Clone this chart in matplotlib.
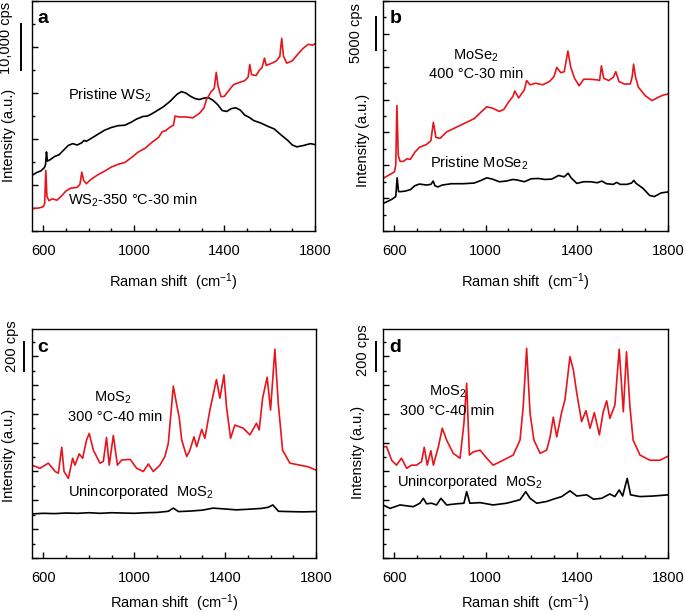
import matplotlib
matplotlib.use("Agg")
import matplotlib.pyplot as plt
import matplotlib.transforms as mtransforms
from matplotlib.ticker import MultipleLocator, FixedLocator, NullFormatter

plt.rcParams["font.family"] = ["Liberation Sans", "DejaVu Sans"]
plt.rcParams["font.size"] = 10.5
plt.rcParams["mathtext.fontset"] = "custom"
plt.rcParams["mathtext.rm"] = "Liberation Sans"
plt.rcParams["mathtext.it"] = "Liberation Sans:italic"
plt.rcParams["mathtext.bf"] = "Liberation Sans:bold"

RED = "#e8141c"

# ---- panel a: WS2 (1 unit = 10,000 cps)
a_black_x = [550, 570, 590, 605, 610, 614, 618, 630, 650, 670, 690, 710, 730, 750, 770, 780,
             790, 810, 840, 870, 900, 930, 960, 990, 1010, 1040, 1060, 1080, 1100, 1130, 1160,
             1190, 1210, 1230, 1250, 1270, 1290, 1310, 1330, 1350, 1370, 1390, 1410, 1430, 1450,
             1470, 1490, 1510, 1530, 1560, 1590, 1620, 1650, 1680, 1700, 1720, 1750, 1780, 1800]
a_black_y = [1.21, 1.27, 1.31, 1.38, 1.45, 1.72, 1.52, 1.55, 1.62, 1.66, 1.76, 1.86, 1.90, 1.87,
             1.92, 1.97, 1.95, 2.01, 2.10, 2.19, 2.25, 2.29, 2.30, 2.37, 2.43, 2.49, 2.50, 2.55,
             2.61, 2.70, 2.82, 2.97, 3.03, 3.00, 2.93, 2.88, 2.86, 2.89, 2.90, 2.84, 2.75, 2.62,
             2.60, 2.66, 2.68, 2.63, 2.52, 2.47, 2.40, 2.35, 2.28, 2.22, 2.09, 1.97, 1.87, 1.83,
             1.86, 1.90, 1.88]
a_red_x = [550, 580, 600, 606, 611, 616, 625, 640, 660, 680, 700, 720, 750, 762, 770, 778, 790,
           810, 840, 870, 900, 930, 960, 990, 1020, 1050, 1080, 1110, 1125, 1140, 1160, 1175,
           1182, 1200, 1230, 1260, 1290, 1310, 1320, 1340, 1355, 1364, 1372, 1385, 1400, 1420,
           1440, 1460, 1490, 1505, 1512, 1520, 1540, 1555, 1566, 1577, 1585, 1610, 1630, 1645,
           1653, 1661, 1675, 1700, 1720, 1745, 1770, 1790, 1800]
a_red_y = [0.49, 0.50, 0.53, 0.60, 1.32, 0.75, 0.66, 0.70, 0.67, 0.76, 0.87, 0.93, 0.95, 1.02,
           1.28, 1.10, 1.03, 1.12, 1.22, 1.30, 1.39, 1.45, 1.49, 1.60, 1.72, 1.80, 1.93, 2.04,
           2.16, 2.18, 2.26, 2.30, 2.50, 2.48, 2.48, 2.46, 2.56, 2.68, 2.85, 3.02, 3.10, 3.45,
           3.15, 2.92, 2.93, 3.06, 3.18, 3.22, 3.27, 3.35, 3.62, 3.40, 3.38, 3.50, 3.55, 3.76,
           3.60, 3.65, 3.70, 3.80, 4.19, 3.80, 3.65, 3.70, 3.82, 3.96, 4.06, 4.04, 4.07]

# ---- panel b: MoSe2 (1 unit = 5000 cps)
b_black_x = [550, 570, 590, 606, 612, 618, 630, 650, 670, 690, 710, 740, 760, 770, 778, 790, 810,
             850, 900, 950, 980, 1005, 1030, 1060, 1090, 1120, 1140, 1170, 1200, 1230, 1260, 1290,
             1320, 1345, 1362, 1375, 1400, 1430, 1460, 1490, 1510, 1530, 1560, 1575, 1590, 1620,
             1640, 1650, 1660, 1690, 1720, 1740, 1770, 1800]
b_black_y = [0.84, 0.90, 0.97, 1.05, 1.62, 1.20, 1.20, 1.22, 1.26, 1.38, 1.43, 1.40, 1.42, 1.52,
             1.38, 1.34, 1.40, 1.44, 1.44, 1.46, 1.54, 1.62, 1.58, 1.50, 1.52, 1.57, 1.55, 1.50,
             1.59, 1.60, 1.57, 1.58, 1.69, 1.65, 1.76, 1.62, 1.45, 1.50, 1.50, 1.47, 1.52, 1.44,
             1.42, 1.48, 1.42, 1.42, 1.46, 1.54, 1.45, 1.30, 1.08, 1.05, 1.16, 1.19]
b_red_x = [550, 575, 600, 606, 611, 617, 625, 640, 655, 670, 690, 710, 740, 760, 771, 782, 800,
           830, 860, 890, 920, 950, 980, 1005, 1030, 1060, 1080, 1100, 1120, 1128, 1145, 1170,
           1180, 1195, 1220, 1250, 1280, 1300, 1312, 1330, 1345, 1361, 1373, 1390, 1410, 1430,
           1460, 1490, 1500, 1508, 1518, 1540, 1560, 1571, 1585, 1610, 1635, 1643, 1649, 1657,
           1670, 1700, 1730, 1760, 1780, 1800]
b_red_y = [1.60, 1.70, 1.80, 2.00, 3.82, 2.30, 2.12, 2.12, 2.20, 2.18, 2.40, 2.55, 2.63, 2.75,
           3.31, 2.85, 2.82, 3.02, 3.12, 3.22, 3.32, 3.42, 3.62, 3.78, 3.74, 3.64, 3.70, 3.92,
           4.10, 4.26, 4.05, 4.30, 4.58, 4.45, 4.50, 4.45, 4.55, 4.70, 4.98, 4.82, 4.85, 5.48,
           5.00, 4.65, 4.42, 4.62, 4.62, 4.60, 4.58, 5.03, 4.65, 4.58, 4.68, 4.85, 4.55, 4.47,
           4.48, 4.70, 5.08, 4.70, 4.38, 4.12, 3.97, 4.08, 4.14, 4.17]

# ---- panel c: MoS2 (1 unit = 100 cps)
c_black_x = [550, 600, 650, 700, 750, 800, 850, 900, 950, 1000, 1050, 1100, 1150, 1172, 1195,
             1250, 1300, 1347, 1400, 1450, 1500, 1560, 1590, 1610, 1635, 1680, 1740, 1800]
c_black_y = [1.53, 1.55, 1.54, 1.56, 1.55, 1.57, 1.55, 1.57, 1.56, 1.55, 1.57, 1.58, 1.62, 1.73,
             1.61, 1.63, 1.66, 1.73, 1.70, 1.67, 1.69, 1.72, 1.76, 1.84, 1.62, 1.61, 1.60, 1.61]
c_red_x = [550, 585, 622, 652, 666, 681, 691, 710, 729, 739, 758, 773, 790, 802, 820, 849, 864,
           878, 890, 908, 926, 945, 982, 1011, 1040, 1062, 1084, 1113, 1135, 1150, 1172, 1187,
           1198, 1209, 1231, 1245, 1263, 1275, 1297, 1311, 1333, 1362, 1377, 1395, 1406, 1424,
           1443, 1480, 1509, 1538, 1550, 1565, 1585, 1600, 1619, 1634, 1653, 1685, 1729, 1766,
           1800]
c_red_y = [3.22, 3.11, 3.29, 3.00, 2.94, 3.84, 3.00, 2.76, 3.46, 3.22, 3.61, 3.46, 4.09, 4.32,
           3.74, 3.29, 3.35, 4.18, 3.22, 4.25, 3.22, 3.40, 3.42, 3.11, 3.00, 3.26, 3.00, 3.22,
           3.52, 3.98, 5.96, 5.31, 4.88, 4.09, 3.52, 3.74, 4.20, 3.86, 4.46, 4.15, 5.13, 6.19,
           5.54, 6.35, 5.25, 4.15, 4.61, 4.50, 4.27, 4.67, 4.44, 5.54, 6.27, 5.13, 7.24, 5.36,
           3.74, 3.29, 3.22, 3.16, 3.05]

# ---- panel d: MoS2 (1 unit = 100 cps)
d_black_x = [550, 581, 625, 683, 712, 727, 741, 763, 785, 804, 829, 873, 905, 917, 931, 976, 1033,
             1092, 1151, 1176, 1195, 1224, 1268, 1297, 1334, 1370, 1400, 1444, 1473, 1509, 1545,
             1567, 1586, 1601, 1621, 1636, 1677, 1736, 1800]
d_black_y = [1.84, 1.72, 1.84, 1.78, 1.90, 2.07, 1.88, 1.90, 1.84, 2.07, 1.84, 1.88, 1.90, 2.30,
             1.90, 1.92, 1.84, 1.90, 2.02, 2.30, 2.07, 1.90, 1.96, 2.04, 2.13, 2.33, 2.15, 2.19,
             2.04, 2.07, 2.22, 2.13, 2.36, 2.15, 2.76, 2.19, 2.13, 2.15, 2.19]
d_red_x = [550, 566, 588, 609, 631, 654, 675, 697, 719, 731, 744, 760, 771, 793, 810, 829, 858,
           888, 905, 917, 929, 946, 976, 1005, 1033, 1077, 1121, 1151, 1165, 1180, 1195, 1212,
           1239, 1268, 1283, 1297, 1312, 1334, 1348, 1370, 1385, 1400, 1421, 1440, 1458, 1477,
           1499, 1516, 1531, 1545, 1567, 1586, 1604, 1618, 1633, 1647, 1677, 1721, 1765, 1800]
d_red_y = [3.86, 3.86, 3.39, 3.22, 3.46, 3.11, 3.22, 3.22, 3.34, 3.84, 3.22, 3.72, 3.22, 3.86,
           4.50, 4.09, 3.63, 3.46, 4.67, 6.06, 3.57, 3.68, 3.74, 3.46, 3.22, 3.39, 3.57, 4.09,
           5.25, 7.27, 5.01, 4.09, 3.63, 3.74, 4.20, 4.88, 4.20, 5.07, 5.48, 6.98, 6.52, 5.71,
           4.73, 5.11, 4.50, 5.04, 4.27, 5.07, 5.45, 4.84, 5.30, 7.24, 5.07, 7.15, 5.25, 4.09,
           3.57, 3.39, 3.39, 3.53]

xticks = [600, 1000, 1400, 1800]
xlabel = "Raman shift  (cm$^{-1}$)"
ylabel = "Intensity (a.u.)"

fig = plt.figure(figsize=(6.85, 6.12), dpi=100)

panels = [
    # letter, rect, ymax, black, red, scale bar, labels
    dict(letter="a", rect=[0.0467, 0.6225, 0.4131, 0.3758], ymax=5.0,
         black=(a_black_x, a_black_y), red=(a_red_x, a_red_y),
         bar=(-0.039, 3.5, 4.5), bar_text=("10,000 cps", -0.092, 4.2),
         ylab=(-0.081, 0.417), xlab_y=-0.175, letter_pos=(0.018, 0.925),
         texts=[("Pristine WS$_2$", 710, 2.95, "left"),
                ("WS$_2$-350 °C-30 min", 710, 0.67, "left")]),
    dict(letter="b", rect=[0.5591, 0.6225, 0.4161, 0.3758], ymax=7.0,
         black=(b_black_x, b_black_y), red=(b_red_x, b_red_y),
         bar=(-0.025, 5.5, 6.5), bar_text=("5000 cps", -0.095, 6.03),
         ylab=(-0.07, 0.396), xlab_y=-0.175, letter_pos=(0.022, 0.925),
         texts=[("MoSe$_2$", 958, 5.33, "center"),
                ("400 °C-30 min", 958, 4.78, "center"),
                ("Pristine MoSe$_2$", 754, 2.05, "left")]),
    dict(letter="c", rect=[0.0467, 0.0882, 0.4146, 0.3742], ymax=7.94,
         black=(c_black_x, c_black_y), red=(c_red_x, c_red_y),
         bar=(-0.028, 6.5, 7.5), bar_text=("200 cps", -0.07, 7.33),
         ylab=(-0.081, 0.45), xlab_y=-0.148, letter_pos=(0.018, 0.92),
         texts=[("MoS$_2$", 906, 5.55, "center"),
                ("300 °C-40 min", 915, 4.89, "center"),
                ("Unincorporated  MoS$_2$", 708, 2.29, "left")]),
    dict(letter="d", rect=[0.5591, 0.0882, 0.4161, 0.3742], ymax=7.94,
         black=(d_black_x, d_black_y), red=(d_red_x, d_red_y),
         bar=(-0.025, 6.5, 7.5), bar_text=("200 cps", -0.07, 7.19),
         ylab=(-0.088, 0.46), xlab_y=-0.148, letter_pos=(0.022, 0.92),
         texts=[("MoS$_2$", 835, 5.76, "center"),
                ("300 °C-40 min", 830, 5.10, "center"),
                ("Unincorporated  MoS$_2$", 611, 2.64, "left")]),
]

for p in panels:
    ax = fig.add_axes(p["rect"])
    ax.plot(*p["black"], color="black", lw=1.2)
    ax.plot(*p["red"], color=RED, lw=1.2)
    ax.set_xlim(550, 1800)
    ax.set_ylim(0, p["ymax"])

    ax.xaxis.set_major_locator(FixedLocator(xticks))
    ax.xaxis.set_minor_locator(MultipleLocator(100))
    ax.yaxis.set_major_locator(MultipleLocator(1))
    ax.yaxis.set_minor_locator(MultipleLocator(0.5))
    ax.yaxis.set_major_formatter(NullFormatter())
    ax.tick_params(which="both", direction="in", width=1.0)
    ax.tick_params(which="major", length=4)
    ax.tick_params(which="minor", length=2.5)
    ax.tick_params(axis="x", which="major", pad=9, labelsize=10.5)
    for s in ax.spines.values():
        s.set_linewidth(1.0)

    ax.set_xlabel(xlabel, fontsize=10.5)
    ax.xaxis.set_label_coords(0.5, p["xlab_y"])
    ax.set_ylabel(ylabel, fontsize=10.5, va="center")
    ax.yaxis.set_label_coords(*p["ylab"])

    trans = mtransforms.blended_transform_factory(ax.transAxes, ax.transData)
    bx, by0, by1 = p["bar"]
    ax.plot([bx, bx], [by0, by1], color="black", lw=1.4, transform=trans, clip_on=False)
    t, tx, ty = p["bar_text"]
    ax.text(tx, ty, t, rotation=90, ha="center", va="center", transform=trans, fontsize=10.5)

    lx, ly = p["letter_pos"]
    ax.text(lx, ly, p["letter"], transform=ax.transAxes, fontsize=14, fontweight="bold",
            ha="left", va="center")
    for txt, x, y, ha in p["texts"]:
        ax.text(x, y, txt, ha=ha, va="center", fontsize=10.5)

fig.savefig("out.png", dpi=100)
